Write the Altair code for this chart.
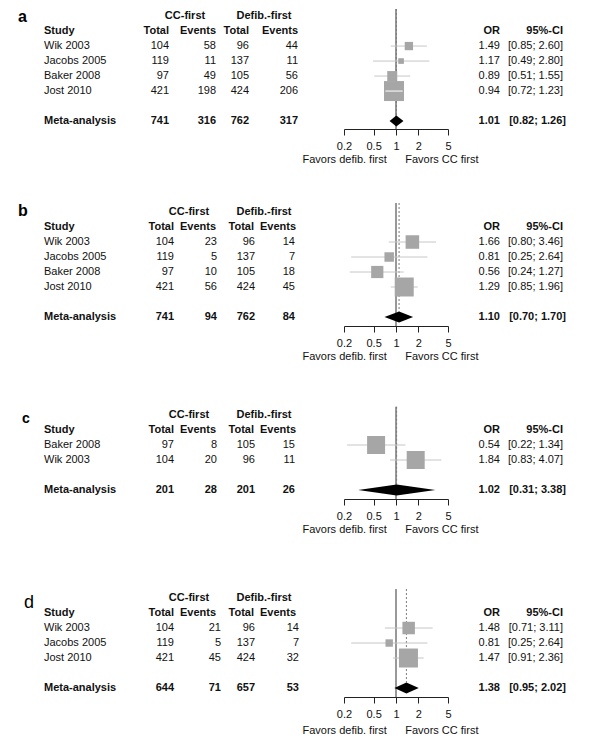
import math
import altair as alt
import pandas as pd

# ---------------- data ----------------
STUDY_A = ["Wik 2003", "Jacobs 2005", "Baker 2008", "Jost 2010"]
CC_TOTAL_A = [104, 119, 97, 421]
CC_EVENTS_A = [58, 11, 49, 198]
DF_TOTAL_A = [96, 137, 105, 424]
DF_EVENTS_A = [44, 11, 56, 206]
OR_A = [1.49, 1.17, 0.89, 0.94]
LO_A = [0.85, 0.49, 0.51, 0.72]
HI_A = [2.60, 2.80, 1.55, 1.23]
WEIGHT_A = [11.5, 5.3, 16.6, 66.6]
META_COUNTS_A = [741, 316, 762, 317]
META_OR_A = [1.01, 0.82, 1.26]

STUDY_B = ["Wik 2003", "Jacobs 2005", "Baker 2008", "Jost 2010"]
CC_TOTAL_B = [104, 119, 97, 421]
CC_EVENTS_B = [23, 5, 10, 56]
DF_TOTAL_B = [96, 137, 105, 424]
DF_EVENTS_B = [14, 7, 18, 45]
OR_B = [1.66, 0.81, 0.56, 1.29]
LO_B = [0.80, 0.25, 0.24, 0.85]
HI_B = [3.46, 2.64, 1.27, 1.96]
WEIGHT_B = [23.4, 11.5, 19.0, 46.1]
META_COUNTS_B = [741, 94, 762, 84]
META_OR_B = [1.10, 0.70, 1.70]

STUDY_C = ["Baker 2008", "Wik 2003"]
CC_TOTAL_C = [97, 104]
CC_EVENTS_C = [8, 20]
DF_TOTAL_C = [105, 96]
DF_EVENTS_C = [15, 11]
OR_C = [0.54, 1.84]
LO_C = [0.22, 0.83]
HI_C = [1.34, 4.07]
WEIGHT_C = [50.0, 50.0]
META_COUNTS_C = [201, 28, 201, 26]
META_OR_C = [1.02, 0.31, 3.38]

STUDY_D = ["Wik 2003", "Jacobs 2005", "Jost 2010"]
CC_TOTAL_D = [104, 119, 421]
CC_EVENTS_D = [21, 5, 45]
DF_TOTAL_D = [96, 137, 424]
DF_EVENTS_D = [14, 7, 32]
OR_D = [1.48, 0.81, 1.47]
LO_D = [0.71, 0.25, 0.91]
HI_D = [3.11, 2.64, 2.36]
WEIGHT_D = [27.3, 9.6, 63.2]
META_COUNTS_D = [644, 71, 657, 53]
META_OR_D = [1.38, 0.95, 2.02]

PANEL_LABELS = ["a", "b", "c", "d"]
TICKS = [0.2, 0.5, 1, 2, 5]
FAVORS_LEFT = "Favors defib. first"
FAVORS_RIGHT = "Favors CC first"

# ---------------- layout / style ----------------
FONT = "Liberation Sans"
TXT = "#111111"
SQ_COLOR = "#a6a6a6"
CI_COLOR = "#c6c6c6"
ROW_PX = 15
WIDTH = 584
X_RANGE = [336, 440]
STUDY_X = 36
OR_X = 492
CI_X = 555
CI_BOLD_X = 558

LAYOUT = {
    "a": dict(top=-0.47, bottom=7.53, rule_top=-0.47, label_row=0.38, label_x=10,
              label_size=16, label_bold=True, grp_x=[177, 256],
              hdr_x=[161, 208, 241, 290], num_x=[161, 208, 241, 290], max_side=20, title_y=30),
    "b": dict(top=-0.6, bottom=7.6, rule_top=-0.6, label_row=0.27, label_x=10,
              label_size=16, label_bold=True, grp_x=[181, 256],
              hdr_x=[166, 208, 246, 288], num_x=[166, 209, 247, 287], max_side=19, title_y=30),
    "c": dict(top=-1.0, bottom=5.6, rule_top=-0.55, label_row=0.53, label_x=14,
              label_size=14, label_bold=True, grp_x=[181, 256],
              hdr_x=[166, 208, 246, 288], num_x=[166, 209, 247, 287], max_side=18, title_y=30),
    "d": dict(top=-1.67, bottom=6.6, rule_top=-0.6, label_row=0.67, label_x=16,
              label_size=18, label_bold=False, grp_x=[181, 256],
              hdr_x=[166, 208, 246, 288], num_x=[166, 213, 247, 291], max_side=19, title_y=33),
}

PX_PER_DECADE = (X_RANGE[1] - X_RANGE[0]) / math.log10(TICKS[-1] / TICKS[0])


def make_axis(title_y):
    return alt.Axis(
        values=TICKS, labelExpr="format(datum.value, '~g')", grid=False,
        domainColor="#222222", tickColor="#222222", tickSize=6, tickWidth=1,
        labelFont=FONT, labelFontSize=11, labelColor=TXT, labelPadding=5,
        labelFlush=False, labelOverlap=False,
        title=FAVORS_LEFT + "\u00a0" * 6 + FAVORS_RIGHT,
        titleFont=FONT, titleFontSize=11, titleFontWeight="normal", titleColor=TXT,
        titleX=382, titleY=title_y, titleAlign="center", titleBaseline="middle",
    )


def panel(key, study, cct, cce, dft, dfe, ors, los, his, ws, meta_counts, meta_or):
    L = LAYOUT[key]
    k = len(study)
    rows = [2 + i for i in range(k)]
    meta_row = k + 3
    height = round((L["bottom"] - L["top"]) * ROW_PX)
    ysc = alt.Scale(domain=[L["top"], L["bottom"]], reverse=True, nice=False, zero=False)
    xsc = alt.Scale(type="log", domain=[TICKS[0], TICKS[-1]], range=X_RANGE, nice=False)
    AX = make_axis(L["title_y"])

    # ---- table text ----
    recs = []

    def add(row, col, txt, bold):
        recs.append(dict(row=row, col=col, txt=str(txt), bold=bold))

    add(0, "grp_cc", "CC-first", True)
    add(0, "grp_df", "Defib.-first", True)
    add(1, "study", "Study", True)
    for c, t in zip(["h_cct", "h_cce", "h_dft", "h_dfe"], ["Total", "Events", "Total", "Events"]):
        add(1, c, t, True)
    add(1, "or", "OR", True)
    add(1, "ci", "95%-CI", True)
    for i in range(k):
        r = rows[i]
        add(r, "study", study[i], False)
        add(r, "cct", cct[i], False)
        add(r, "cce", cce[i], False)
        add(r, "dft", dft[i], False)
        add(r, "dfe", dfe[i], False)
        add(r, "or", f"{ors[i]:.2f}", False)
        add(r, "ci", f"[{los[i]:.2f}; {his[i]:.2f}]", False)
    add(meta_row, "study", "Meta-analysis", True)
    for c, v in zip(["cct", "cce", "dft", "dfe"], meta_counts):
        add(meta_row, c, v, True)
    add(meta_row, "or", f"{meta_or[0]:.2f}", True)
    add(meta_row, "ci_b", f"[{meta_or[1]:.2f}; {meta_or[2]:.2f}]", True)
    tdf = pd.DataFrame(recs)

    colspec = {
        "grp_cc": (L["grp_x"][0], "center"), "grp_df": (L["grp_x"][1], "center"),
        "study": (STUDY_X, "left"),
        "h_cct": (L["hdr_x"][0], "right"), "h_cce": (L["hdr_x"][1], "right"),
        "h_dft": (L["hdr_x"][2], "right"), "h_dfe": (L["hdr_x"][3], "right"),
        "cct": (L["num_x"][0], "right"), "cce": (L["num_x"][1], "right"),
        "dft": (L["num_x"][2], "right"), "dfe": (L["num_x"][3], "right"),
        "or": (OR_X, "right"), "ci": (CI_X, "right"), "ci_b": (CI_BOLD_X, "right"),
    }

    Y = alt.Y("row:Q", scale=ysc, axis=None)
    layers = []

    # ---- forest part ----
    sdf = pd.DataFrame(dict(row=rows, or_=ors, lo=los, hi=his, w=ws))
    maxw = max(ws)
    side = [math.sqrt(w / maxw) * L["max_side"] for w in ws]
    half_log = [s / 2 / PX_PER_DECADE for s in side]
    inside = [math.log10(o / l) < h and math.log10(hh / o) < h
              for o, l, hh, h in zip(ors, los, his, half_log)]
    sdf["inside"] = inside

    ref_df = pd.DataFrame(dict(x=[1.0], y=[L["rule_top"]], y2=[L["bottom"]]))
    layers.append(alt.Chart(ref_df).mark_rule(color="#333333", strokeWidth=1).encode(
        x=alt.X("x:Q", scale=xsc, axis=AX),
        y=alt.Y("y:Q", scale=ysc, axis=None), y2="y2:Q"))

    pooled_df = pd.DataFrame(dict(x=[meta_or[0]], y=[L["rule_top"]], y2=[meta_row - 0.37]))
    layers.append(alt.Chart(pooled_df).mark_rule(color="#7a7a7a", strokeWidth=1,
                                                  strokeDash=[2, 2]).encode(
        x=alt.X("x:Q", scale=xsc, axis=AX),
        y=alt.Y("y:Q", scale=ysc, axis=None), y2="y2:Q"))

    layers.append(alt.Chart(sdf).mark_rule(color=CI_COLOR, strokeWidth=1).encode(
        x=alt.X("lo:Q", scale=xsc, axis=AX), x2="hi:Q", y=Y))

    layers.append(alt.Chart(sdf).mark_square(filled=True, color=SQ_COLOR, opacity=1).encode(
        x=alt.X("or_:Q", scale=xsc, axis=AX), y=Y,
        size=alt.Size("w:Q", scale=alt.Scale(domain=[0, maxw], range=[0, L["max_side"] ** 2],
                                             zero=True), legend=None)))

    if any(inside):
        layers.append(alt.Chart(sdf[sdf["inside"]]).mark_rule(color="white", strokeWidth=1).encode(
            x=alt.X("lo:Q", scale=xsc, axis=AX), x2="hi:Q", y=Y))

    dia = pd.DataFrame(dict(x=[meta_or[1], meta_or[0], meta_or[2]],
                            y=[meta_row, meta_row - 0.37, meta_row],
                            y2=[meta_row, meta_row + 0.37, meta_row]))
    layers.append(alt.Chart(dia).mark_area(color="black", opacity=1, interpolate="linear").encode(
        x=alt.X("x:Q", scale=xsc, axis=AX),
        y=alt.Y("y:Q", scale=ysc, axis=None), y2="y2:Q"))

    # ---- text layers ----
    for (col, bold), sub in tdf.groupby(["col", "bold"], sort=False):
        xpos, align = colspec[col]
        layers.append(alt.Chart(sub).mark_text(
            align=align, baseline="middle", font=FONT, fontSize=11,
            fontWeight="bold" if bold else "normal", color=TXT).encode(
            x=alt.value(xpos), y=Y, text="txt:N"))

    lab_df = pd.DataFrame(dict(row=[L["label_row"]], txt=[key]))
    layers.append(alt.Chart(lab_df).mark_text(
        align="left", baseline="alphabetic", font=FONT, fontSize=L["label_size"],
        fontWeight="bold" if L["label_bold"] else "normal", color="#000000").encode(
        x=alt.value(L["label_x"]), y=Y, text="txt:N"))

    return alt.layer(*layers).properties(width=WIDTH, height=height)


pa = panel("a", STUDY_A, CC_TOTAL_A, CC_EVENTS_A, DF_TOTAL_A, DF_EVENTS_A, OR_A, LO_A, HI_A,
           WEIGHT_A, META_COUNTS_A, META_OR_A)
pb = panel("b", STUDY_B, CC_TOTAL_B, CC_EVENTS_B, DF_TOTAL_B, DF_EVENTS_B, OR_B, LO_B, HI_B,
           WEIGHT_B, META_COUNTS_B, META_OR_B)
pc = panel("c", STUDY_C, CC_TOTAL_C, CC_EVENTS_C, DF_TOTAL_C, DF_EVENTS_C, OR_C, LO_C, HI_C,
           WEIGHT_C, META_COUNTS_C, META_OR_C)
pd_ = panel("d", STUDY_D, CC_TOTAL_D, CC_EVENTS_D, DF_TOTAL_D, DF_EVENTS_D, OR_D, LO_D, HI_D,
            WEIGHT_D, META_COUNTS_D, META_OR_D)

chart = (
    alt.vconcat(pa, pb, pc, pd_, spacing=74, bounds="flush")
    .resolve_scale(size="independent")
    .properties(padding=0, background="white")
    .configure_view(stroke=None)
)

chart.save("out.html", embed_options={"renderer": "svg", "actions": False})
